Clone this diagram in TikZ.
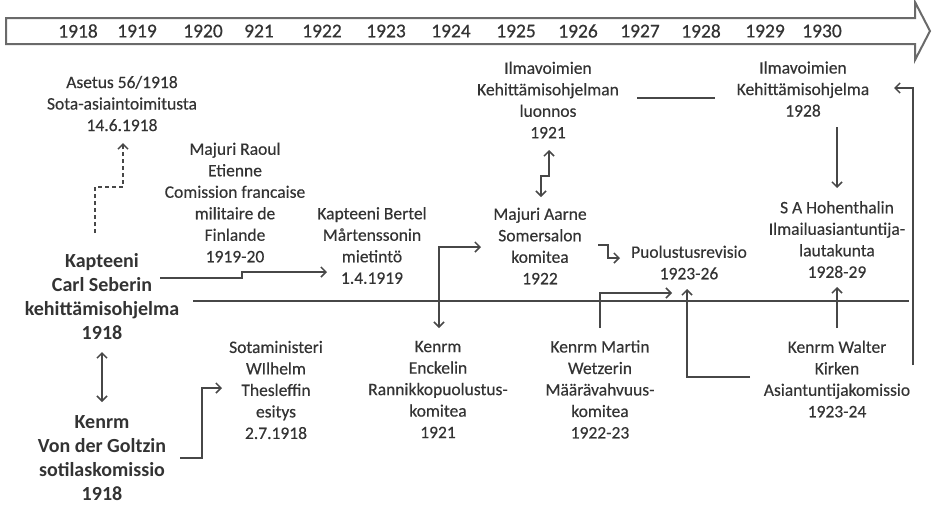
\documentclass[tikz,border=0pt]{standalone}
\usepackage{fontspec}
\setmainfont{Carlito}
\newfontfamily\lblfont{Carlito}[FakeBold=0.35]
\usetikzlibrary{arrows.meta}
\definecolor{ink}{HTML}{333333}
\definecolor{wire}{HTML}{474747}
\definecolor{band}{HTML}{6A6A6A}
\begin{document}
\begin{tikzpicture}[x=1pt,y=-1pt,
  lbl/.style={align=center,inner sep=0pt,text=ink,font=\lblfont\fontsize{17.5}{21.5}\selectfont},
  bld/.style={lbl,font=\fontsize{20}{24}\selectfont\bfseries},
  yr/.style={inner sep=0pt,text=ink,font=\lblfont\fontsize{19.5}{22}\selectfont},
  wirestyle/.style={draw=wire,line width=1.6pt},
  arr/.style={wirestyle,-{Straight Barb[length=5pt,width=10pt,line width=1.5pt]}},
  biarr/.style={wirestyle,{Straight Barb[length=5pt,width=10pt,line width=1.5pt]}-{Straight Barb[length=5pt,width=10pt,line width=1.5pt]}}
]
\useasboundingbox (0,0) rectangle (932,507);

% time band with arrow head
\draw[draw=band,line width=2pt,fill=white,line join=miter]
  (6,18) -- (915,18) -- (915,2) -- (930,31) -- (915,60) -- (915,44) -- (6,44) -- cycle;
\foreach \x/\t in {78/1918,137/1919,203/1920,259/921,322/1922,386/1923,451/1924,
                   516/1925,578/1926,640/1927,701/1928,765/1929,822/1930}
  \node[yr] (y\t) at (\x,31) {\t};

% main axis
\draw[wirestyle,line width=1.8pt] (193,301) -- (909,301);

% upper row
\node[lbl] (asetus) at (122,103.5) {Asetus 56/1918\\Sota-asiaintoimitusta\\14.6.1918};
\node[lbl] (raoul) at (235,202.5) {Majuri Raoul\\Etienne\\Comission francaise\\militaire de\\Finlande\\1919-20};
\node[bld] (seberin) at (102,296.5) {Kapteeni\\Carl Seberin\\kehittämisohjelma\\1918};
\node[lbl] (marten) at (372,245.5) {Kapteeni Bertel\\Mårtenssonin\\mietintö\\1.4.1919};
\node[lbl] (luonnos) at (548,100) {Ilmavoimien\\Kehittämisohjelman\\luonnos\\1921};
\node[lbl] (somersalo) at (540,246) {Majuri Aarne\\Somersalon\\komitea\\1922};
\node[lbl] (revisio) at (689,262.5) {Puolustusrevisio\\1923-26};
\node[lbl] (ohjelma) at (803,89) {Ilmavoimien\\Kehittämisohjelma\\1928};
\node[lbl] (hohenthal) at (837,239.5) {S A Hohenthalin\\Ilmailuasiantuntija-\\lautakunta\\1928-29};

% lower row
\node[bld] (goltz) at (102,458.5) {Kenrm\\Von der Goltzin\\sotilaskomissio\\1918};
\node[lbl] (thesleff) at (276,390) {Sotaministeri\\WIlhelm\\Thesleffin\\esitys\\2.7.1918};
\node[lbl] (enckel) at (438,389.5) {Kenrm\\Enckelin\\Rannikkopuolustus-\\komitea\\1921};
\node[lbl] (wetzer) at (600,389.5) {Kenrm Martin\\Wetzerin\\Määrävahvuus-\\komitea\\1922-23};
\node[lbl] (kirke) at (837,379) {Kenrm Walter\\Kirken\\Asiantuntijakomissio\\1923-24};

% connector end points
\coordinate (seb-up)   at (95,233);
\coordinate (ase-in)   at (123,143);
\coordinate (seb-out)  at (160,278);
\coordinate (mar-in)   at (327,272);
\coordinate (seb-dn)   at (102,352);
\coordinate (gol-up)   at (102,402);
\coordinate (gol-out)  at (180,458);
\coordinate (the-in)   at (222,388);
\coordinate (luo-dn)   at (549,150);
\coordinate (som-up)   at (541,197);
\coordinate (som-in)   at (481,247);
\coordinate (enc-in)   at (439,328);
\coordinate (som-out)  at (598,245);
\coordinate (rev-in)   at (620,258);
\coordinate (luo-out)  at (637,98);
\coordinate (ohj-in)   at (715,98);
\coordinate (ohj-dn)   at (837,127);
\coordinate (hoh-in)   at (837,188);
\coordinate (kir-up)   at (837,328);
\coordinate (hoh-dn)   at (837,287);
\coordinate (wet-up)   at (600,328);
\coordinate (rev-a)    at (672,293);
\coordinate (kir-left) at (750,377);
\coordinate (rev-b)    at (687,289);
\coordinate (kir-right) at (913,365);
\coordinate (ohj-side) at (894,88);

% connectors
\draw[arr,dashed,dash pattern=on 4pt off 3pt] (seb-up) -- (95,187) -- (123,187) -- (ase-in);
\draw[arr] (seb-out) -- (242,278) -- (242,272) -- (mar-in);
\draw[biarr] (seb-dn) -- (gol-up);
\draw[arr] (gol-out) -- (202,458) -- (202,388) -- (the-in);
\draw[biarr] (luo-dn) -- (549,176) -- (541,176) -- (som-up);
\draw[biarr] (enc-in) -- (439,247) -- (som-in);
\draw[arr] (som-out) -- (608,245) -- (608,258) -- (rev-in);
\draw[wirestyle] (luo-out) -- (ohj-in);
\draw[arr] (ohj-dn) -- (hoh-in);
\draw[arr] (kir-up) -- (hoh-dn);
\draw[arr] (wet-up) -- (600,293) -- (rev-a);
\draw[arr] (kir-left) -- (687,377) -- (rev-b);
\draw[arr] (kir-right) -- (913,88) -- (ohj-side);
\end{tikzpicture}
\end{document}
